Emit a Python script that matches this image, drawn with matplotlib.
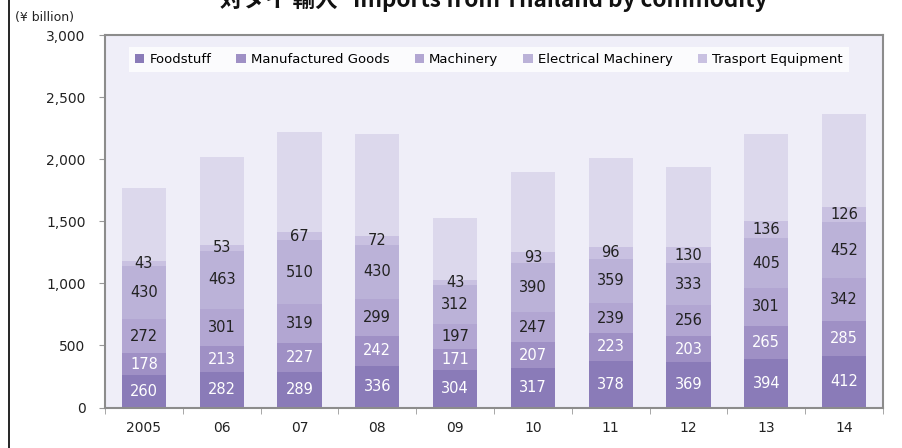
import matplotlib
matplotlib.use("Agg")
import matplotlib.pyplot as plt
from matplotlib.lines import Line2D
from matplotlib.ticker import FuncFormatter, FixedLocator
import numpy as np

years = ["2005", "06", "07", "08", "09", "10", "11", "12", "13", "14"]
foodstuff = [260, 282, 289, 336, 304, 317, 378, 369, 394, 412]
manufactured = [178, 213, 227, 242, 171, 207, 223, 203, 265, 285]
machinery = [272, 301, 319, 299, 197, 247, 239, 256, 301, 342]
electrical = [430, 463, 510, 430, 312, 390, 359, 333, 405, 452]
transport = [43, 53, 67, 72, 43, 93, 96, 130, 136, 126]
others = [582, 703, 803, 826, 503, 646, 715, 649, 704, 748]

series = [
    ("Foodstuff", foodstuff, "#8a7bb8", "white", True),
    ("Manufactured Goods", manufactured, "#9f90c5", "white", True),
    ("Machinery", machinery, "#b2a6d2", "#222222", True),
    ("Electrical Machinery", electrical, "#bbb2d8", "#222222", True),
    ("Trasport Equipment", transport, "#c9c1e1", "#222222", True),
    ("Others", others, "#dcd8ec", "#222222", False),
]

W, H = 903, 448
fig = plt.figure(figsize=(W / 100, H / 100), dpi=100)
fig.patch.set_facecolor("white")
ax = fig.add_axes([105 / W, 1 - 407.5 / H, (883 - 105) / W, (407.5 - 35) / H])
ax.set_facecolor("#efeef8")

x = np.arange(len(years))
bottom = np.zeros(len(years))
for name, vals, color, tcol, labeled in series:
    vals = np.array(vals, dtype=float)
    ax.bar(x, vals, 0.57, bottom=bottom, color=color, edgecolor="none",
           label=name if labeled else "_nolegend_", zorder=2)
    if labeled:
        for xi, b, v in zip(x, bottom, vals):
            ax.text(xi, b + v / 2, f"{int(v)}", ha="center", va="center",
                    color=tcol, fontsize=10.5, zorder=3)
    bottom = bottom + vals

ax.set_xlim(-0.5, len(years) - 0.5)
ax.set_ylim(0, 3000)
ax.yaxis.set_major_locator(FixedLocator([0, 500, 1000, 1500, 2000, 2500, 3000]))
ax.yaxis.set_major_formatter(FuncFormatter(lambda v, p: f"{int(v):,}"))
ax.set_xticks(x)
ax.set_xticklabels(years)
ax.set_xticks(np.arange(-0.5, len(years)), minor=True)
ax.tick_params(axis="x", which="major", length=0, pad=10, labelsize=10, colors="#222222")
ax.tick_params(axis="x", which="minor", length=4, color="#999999", direction="out")
ax.tick_params(axis="y", length=4, color="#999999", direction="out", pad=10,
               labelsize=10, labelcolor="#222222")
for s in ax.spines.values():
    s.set_color("#8c8c8c")
    s.set_linewidth(1.5)

leg = ax.legend(ncol=5, loc="upper center", bbox_to_anchor=(0.4935, 0.967),
                frameon=True, fancybox=False, fontsize=9.5, handlelength=0.7,
                handleheight=0.7, handletextpad=0.4, columnspacing=1.9,
                borderpad=0.45, borderaxespad=0)
leg.get_frame().set_facecolor("white")
leg.get_frame().set_edgecolor("white")
leg.get_frame().set_linewidth(0)

fig.text(15 / W, 1 - 18 / H, "(¥ billion)", fontsize=9, ha="left", va="center",
         color="#222222")
fig.text(494 / W, 1 - 7.5 / H, "対タイ 輸入   Imports from Thailand by commodity",
         fontsize=16.2, fontweight="bold", ha="center", va="baseline",
         family=["Noto Sans CJK JP", "DejaVu Sans"], color="#111111")
fig.add_artist(Line2D([8.5 / W, 8.5 / W], [0, 1], color="black", linewidth=1.2,
                      transform=fig.transFigure))

fig.savefig("out.png", dpi=100)
